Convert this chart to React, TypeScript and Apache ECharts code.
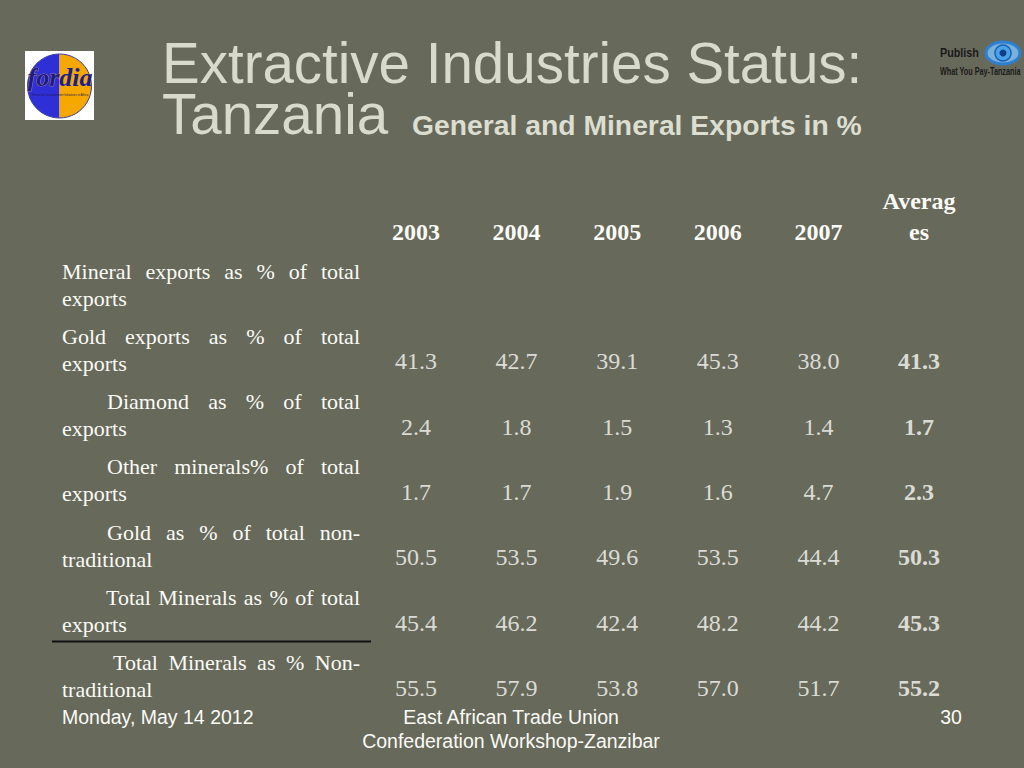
import React, { useEffect, useRef } from "react";
import * as echarts from "echarts";

// ---- data ----
const columns = ["2003", "2004", "2005", "2006", "2007", "Averag\nes"];
const rowLabels: string[][] = [
  ["Mineral exports as % of total", "exports"],
  ["Gold exports as % of total", "exports"],
  ["Diamond as % of total", "exports"],
  ["Other minerals% of total", "exports"],
  ["Gold as % of total non-", "traditional"],
  ["Total Minerals as % of total", "exports"],
  ["Total Minerals as % Non-", "traditional"],
];
const mineralExports: (number | null)[] = [null, null, null, null, null, null];
const goldExports = [41.3, 42.7, 39.1, 45.3, 38.0, 41.3];
const diamondExports = [2.4, 1.8, 1.5, 1.3, 1.4, 1.7];
const otherMinerals = [1.7, 1.7, 1.9, 1.6, 4.7, 2.3];
const goldNonTraditional = [50.5, 53.5, 49.6, 53.5, 44.4, 50.3];
const totalMinerals = [45.4, 46.2, 42.4, 48.2, 44.2, 45.3];
const totalMineralsNonTraditional = [55.5, 57.9, 53.8, 57.0, 51.7, 55.2];
const tableRows = [
  mineralExports,
  goldExports,
  diamondExports,
  otherMinerals,
  goldNonTraditional,
  totalMinerals,
  totalMineralsNonTraditional,
];

// ---- style ----
const BG = "#67695b";
const TEXT = "#fbfbf6";
const TITLE = "#d8dacb";
const SERIF = "'Liberation Serif', 'Times New Roman', serif";
const SANS = "'Liberation Sans', Arial, sans-serif";
const labelIndents = [62, 62, 107, 107, 107, 106, 113];
const LABEL_RIGHT = 360;
const LABEL_FONT = 22;

export default function App() {
  const ref = useRef<HTMLDivElement>(null);
  useEffect(() => {
    if (!ref.current) return;
    const chart = echarts.init(ref.current, null, { renderer: "svg" });
    const data: any[] = [];
    tableRows.forEach((row, r) => {
      row.forEach((v, c) => {
        if (v === null || v === undefined) return;
        data.push({
          value: [c, r, v],
          label: c === columns.length - 1 ? { fontWeight: "bold" } : undefined,
        });
      });
    });
    chart.setOption({
      animation: false,
      backgroundColor: BG,
      grid: {
        left: 365.7,
        right: 54.7,
        top: 263.35,
        bottom: 47.55,
        outerBoundsMode: "none",
      },
      xAxis: {
        type: "category",
        data: columns.map((c, i) => i),
        position: "top",
        axisLine: { show: false },
        axisTick: { show: false },
        splitLine: { show: false },
        axisLabel: {
          formatter: (v: any) => columns[Number(v)],
          fontFamily: SERIF,
          fontWeight: "bold",
          fontSize: 24,
          color: TEXT,
          lineHeight: 31,
          margin: 16,
          interval: 0,
        },
      },
      yAxis: {
        type: "category",
        inverse: true,
        data: rowLabels.map((r, i) => i),
        axisLine: { show: false },
        axisTick: { show: false },
        splitLine: { show: false },
        axisLabel: { show: false },
      },
      series: [
        {
          type: "scatter",
          symbolSize: 1,
          itemStyle: { color: "rgba(0,0,0,0)" },
          label: {
            show: true,
            position: "inside",
            formatter: (p: any) => Number(p.value[2]).toFixed(1),
            fontFamily: SERIF,
            fontSize: 24,
            color: TEXT,
          },
          data,
        },
      ],
    });

    // row labels, justified on first line
    const canvas = document.createElement("canvas");
    const ctx = canvas.getContext("2d")!;
    ctx.font = `${LABEL_FONT}px 'Liberation Serif'`;
    const graphics: any[] = [];
    rowLabels.forEach((lines, r) => {
      const cy = (chart.convertToPixel({ gridIndex: 0 }, [0, r]) as number[])[1];
      const y2 = cy + 2;
      const y1 = y2 - 27;
      const words = lines[0].split(" ");
      const widths = words.map((w) => ctx.measureText(w).width);
      const total = widths.reduce((a, b) => a + b, 0);
      const left = labelIndents[r];
      const gap = words.length > 1 ? (LABEL_RIGHT - left - total) / (words.length - 1) : 0;
      let x = left;
      words.forEach((w, i) => {
        graphics.push({
          type: "text",
          x,
          y: y1,
          style: {
            text: w,
            font: `${LABEL_FONT}px ${SERIF}`,
            fill: TEXT,
            verticalAlign: "middle",
            align: "left",
          },
        });
        x += widths[i] + gap;
      });
      graphics.push({
        type: "text",
        x: 62,
        y: y2,
        style: {
          text: lines[1],
          font: `${LABEL_FONT}px ${SERIF}`,
          fill: TEXT,
          verticalAlign: "middle",
          align: "left",
        },
      });
      if (r === 5) {
        graphics.push({
          type: "line",
          shape: { x1: 52, y1: y2 + 17, x2: 371, y2: y2 + 17 },
          style: { stroke: "#111111", lineWidth: 2 },
        });
      }
    });

    // titles
    graphics.push(
      {
        type: "text",
        x: 162,
        y: 38,
        style: {
          text: "Extractive Industries Status:\nTanzania",
          font: `56.5px ${SANS}`,
          lineHeight: 51,
          fill: TITLE,
          verticalAlign: "top",
        },
      },
      {
        type: "text",
        x: 412,
        y: 125,
        style: { text: "General and Mineral Exports in %", font: `bold 28.3px ${SANS}`, fill: "#dcded0", verticalAlign: "middle" },
      },
      // footer
      {
        type: "text",
        x: 62,
        y: 717,
        style: { text: "Monday, May 14 2012", font: `19.5px ${SANS}`, fill: TEXT, verticalAlign: "middle" },
      },
      {
        type: "text",
        x: 511,
        y: 717,
        style: { text: "East African Trade Union", font: `19.5px ${SANS}`, fill: TEXT, verticalAlign: "middle", align: "center" },
      },
      {
        type: "text",
        x: 511,
        y: 741,
        style: { text: "Confederation Workshop-Zanzibar", font: `19.5px ${SANS}`, fill: TEXT, verticalAlign: "middle", align: "center" },
      },
      {
        type: "text",
        x: 951,
        y: 717,
        style: { text: "30", font: `19.5px ${SANS}`, fill: TEXT, verticalAlign: "middle", align: "center" },
      },
      // fordia logo
      { type: "rect", shape: { x: 25, y: 51, width: 69, height: 69 }, style: { fill: "#ffffff" } },
      {
        type: "sector",
        shape: { cx: 59.5, cy: 86, r: 32, r0: 0, startAngle: Math.PI / 2, endAngle: (3 * Math.PI) / 2, clockwise: true },
        style: { fill: "#2f2fd8" },
      },
      {
        type: "sector",
        shape: { cx: 59.5, cy: 86, r: 32, r0: 0, startAngle: -Math.PI / 2, endAngle: Math.PI / 2, clockwise: true },
        style: { fill: "#f6a700" },
      },
      {
        type: "circle",
        shape: { cx: 59.5, cy: 86, r: 32 },
        style: { fill: "none", stroke: "#3a3a9a", lineWidth: 1 },
      },
      {
        type: "text",
        x: 60,
        y: 77,
        style: {
          text: "fordia",
          font: `italic bold 26px ${SERIF}`,
          fill: "#1d1d8a",
          stroke: "#e0b040",
          lineWidth: 0.6,
          align: "center",
          verticalAlign: "middle",
        },
      },
      {
        type: "text",
        x: 60,
        y: 95,
        style: { text: "Forum for Development Initiatives in Africa", font: `3px ${SANS}`, fill: "#1d1d5a", align: "center", verticalAlign: "middle" },
      },
      // Publish What You Pay logo
      {
        type: "text",
        x: 940,
        y: 53,
        scaleX: 0.83,
        style: { text: "Publish", font: `bold 13px ${SANS}`, fill: "#1a1a1a", verticalAlign: "middle" },
      },
      {
        type: "text",
        x: 940,
        y: 71,
        scaleX: 0.66,
        style: { text: "What You Pay-Tanzania", font: `bold 11px ${SANS}`, fill: "#1a1a1a", verticalAlign: "middle" },
      },
      {
        type: "ellipse",
        shape: { cx: 1003, cy: 53, rx: 17, ry: 11 },
        style: { fill: "#7ab0dc", stroke: "#2f7fd0", lineWidth: 3 },
      },
      {
        type: "circle",
        shape: { cx: 1003, cy: 53, r: 8 },
        style: { fill: "#4aa3e8", stroke: "#1c5fb0", lineWidth: 1.5 },
      },
      {
        type: "circle",
        shape: { cx: 1003, cy: 53, r: 3.5 },
        style: { fill: "#0f3f8a" },
      }
    );
    chart.setOption({ graphic: graphics });
    return () => chart.dispose();
  }, []);
  return (
    <div
      ref={ref}
      style={{ position: "fixed", left: 0, top: 0, width: 1024, height: 768 }}
    />
  );
}
